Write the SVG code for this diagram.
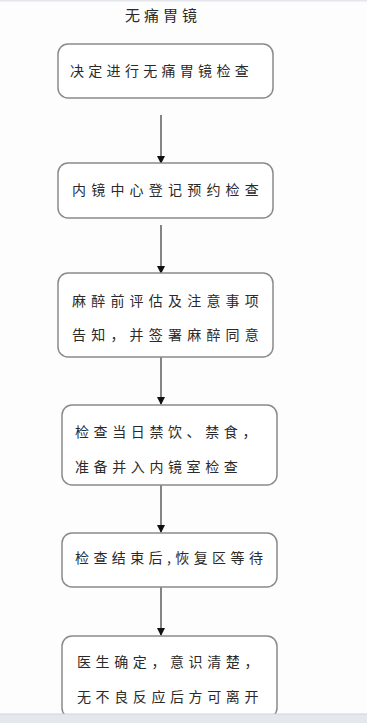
<svg xmlns="http://www.w3.org/2000/svg" width="367" height="723" viewBox="0 0 367 723">
<defs>
<marker id="ah" markerWidth="8" markerHeight="8" refX="7" refY="4" orient="auto" markerUnits="userSpaceOnUse">
<path d="M0,0 L8,4 L0,8 Z" fill="#111"/>
</marker>
<style>
.box{fill:#ffffff;stroke:#8a8a8a;stroke-width:1.5}
.t{font-family:"Noto Sans CJK SC","Noto Sans",sans-serif;font-size:14px;fill:#2a2a2a;letter-spacing:4.6px}
.c{stroke:#444;stroke-width:1.3;fill:none;marker-end:url(#ah)}
</style>
</defs>
<rect x="0" y="0" width="367" height="723" fill="#fdfdfd"/>
<rect x="0" y="0" width="367" height="1.5" fill="#e3e6ea"/>
<text id="title" x="125" y="21" class="t" style="font-size:15px;letter-spacing:4px">无痛胃镜</text>
<g id="connectors">
<line class="c" x1="161" y1="115" x2="161" y2="163"/>
<line class="c" x1="161" y1="225" x2="161" y2="273"/>
<line class="c" x1="161" y1="357" x2="161" y2="404"/>
<line class="c" x1="161" y1="485" x2="161" y2="532"/>
<line class="c" x1="161" y1="587" x2="161" y2="635"/>
</g>
<g id="n1">
<rect class="box" x="58" y="44" width="215" height="54" rx="10"/>
<text class="t" x="70" y="76" style="letter-spacing:4.3px">决定进行无痛胃镜检查</text>
</g>
<g id="n2">
<rect class="box" x="58" y="163" width="215" height="55" rx="10"/>
<text class="t" x="72" y="195" style="letter-spacing:5.2px">内镜中心登记预约检查</text>
</g>
<g id="n3">
<rect class="box" x="58" y="273" width="215" height="84" rx="10"/>
<text class="t" x="72" y="306" style="letter-spacing:5.2px">麻醉前评估及注意事项</text>
<text class="t" x="72" y="340" style="letter-spacing:5.2px">告知，并签署麻醉同意</text>
</g>
<g id="n4">
<rect class="box" x="62" y="405" width="215" height="80" rx="10"/>
<text class="t" x="75" y="437">检查当日禁饮、禁食，</text>
<text class="t" x="75" y="472">准备并入内镜室检查</text>
</g>
<g id="n5">
<rect class="box" x="62" y="533" width="215" height="54" rx="10"/>
<text class="t" x="75" y="563" style="letter-spacing:4.4px">检查结束后,恢复区等待</text>
</g>
<g id="n6">
<rect class="box" x="62" y="636" width="215" height="82" rx="10"/>
<text class="t" x="77" y="667">医生确定，意识清楚，</text>
<text class="t" x="77" y="702">无不良反应后方可离开</text>
</g>
<rect x="0" y="714" width="367" height="9" fill="#e4e7eb"/>
<line x1="0" y1="714" x2="367" y2="714" stroke="#d0d3d7" stroke-width="1"/>
</svg>
